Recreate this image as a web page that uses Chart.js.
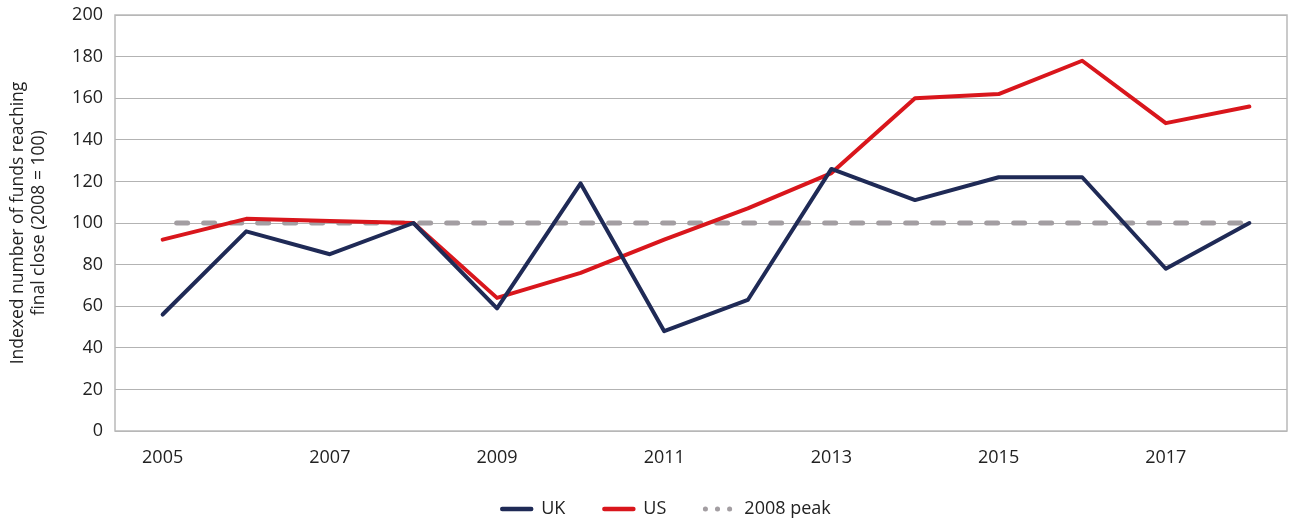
<!DOCTYPE html>
<html>
<head>
<meta charset="utf-8">
<script src="https://cdn.jsdelivr.net/npm/chart.js@4"></script>
<style>
  html, body { margin: 0; padding: 0; background: #fff; }
  #wrap { width: 1290px; height: 524px; }
</style>
</head>
<body>
<div id="wrap"><canvas id="fundsChart" width="1290" height="524"></canvas></div>
<script>
// funds reaching final close, indexed to 2008
const years = [2005, 2006, 2007, 2008, 2009, 2010, 2011, 2012, 2013, 2014, 2015, 2016, 2017, 2018];
const ukValues = [56, 96, 85, 100, 59, 119, 48, 63, 126, 111, 122, 122, 78, 100];
const usValues = [92, 102, 101, 100, 64, 76, 92, 107, 124, 160, 162, 178, 148, 156];
const peakValues = [100, 100, 100, 100, 100, 100, 100, 100, 100, 100, 100, 100, 100, 100];
const yearTicks = [2005, 2007, 2009, 2011, 2013, 2015, 2017];

const FONT = '"Open Sans", "DejaVu Sans", sans-serif';
const TEXT = '#222222';

const toPoints = vals => vals.map((v, i) => ({ x: years[i], y: v }));

// box around the plot area
const frame = {
    id: 'frame',
    beforeDatasetsDraw(chart) {
        const a = chart.chartArea, ctx = chart.ctx;
        ctx.save();
        ctx.strokeStyle = '#b9b9b9';
        ctx.lineWidth = 1.5;
        ctx.strokeRect(a.left, a.top, a.right - a.left, a.bottom - a.top);
        ctx.restore();
    }
};

// legend row under the x axis
const bottomLegend = {
    id: 'bottomLegend',
    afterDraw(chart) {
        const ctx = chart.ctx;
        const sw = 34, gap = 8, itemGap = 36, y = 509;
        ctx.save();
        ctx.font = '18px ' + FONT;
        ctx.textBaseline = 'middle';
        const items = chart.data.datasets;
        const widths = items.map(d => sw + gap + ctx.measureText(d.label).width);
        const total = widths.reduce((a, b) => a + b, 0) + itemGap * (items.length - 1);
        let x = 665 - total / 2;
        items.forEach((d, i) => {
            ctx.strokeStyle = d.borderColor;
            ctx.lineCap = 'round';
            if (d.borderDash) {
                ctx.lineWidth = 5;
                ctx.setLineDash([0.1, 12]);
            } else {
                ctx.lineWidth = 4.5;
                ctx.setLineDash([]);
            }
            ctx.beginPath();
            ctx.moveTo(x + 3, y);
            ctx.lineTo(x + sw - 2, y);
            ctx.stroke();
            ctx.setLineDash([]);
            ctx.fillStyle = TEXT;
            ctx.fillText(d.label, x + sw + gap, y);
            x += widths[i] + itemGap;
        });
        ctx.restore();
    }
};

new Chart(document.getElementById('fundsChart'), {
    type: 'line',
    data: {
        datasets: [
            {
                label: 'UK',
                data: toPoints(ukValues),
                borderColor: '#1f2a56',
                borderWidth: 4,
                borderJoinStyle: 'round',
                borderCapStyle: 'round',
                pointRadius: 0,
                tension: 0
            },
            {
                label: 'US',
                data: toPoints(usValues),
                borderColor: '#d9161c',
                borderWidth: 4,
                borderJoinStyle: 'round',
                borderCapStyle: 'round',
                pointRadius: 0,
                tension: 0
            },
            {
                label: '2008 peak',
                data: toPoints(peakValues),
                borderColor: '#a39ea2',
                borderWidth: 5,
                borderDash: [11, 16],
                borderDashOffset: 13,
                borderCapStyle: 'round',
                pointRadius: 0,
                tension: 0
            }
        ]
    },
    options: {
        responsive: false,
        animation: false,
        layout: { padding: { top: 15, right: 3, bottom: 50, left: 0 } },
        plugins: {
            legend: { display: false },
            tooltip: { enabled: false }
        },
        scales: {
            x: {
                type: 'linear',
                min: 2004.43,
                max: 2018.45,
                grid: { display: false },
                border: { display: false },
                afterBuildTicks: axis => { axis.ticks = yearTicks.map(v => ({ value: v })); },
                afterFit: axis => { axis.height = 43; axis.paddingLeft = 0; axis.paddingRight = 0; },
                ticks: {
                    padding: 8,
                    color: TEXT,
                    font: { family: FONT, size: 18 },
                    callback: v => String(v),
                    maxRotation: 0
                }
            },
            y: {
                min: 0,
                max: 200,
                grid: { color: '#b3b3b3', lineWidth: 1, drawTicks: false },
                border: { display: false },
                afterFit: axis => { axis.width = 115; axis.paddingTop = 0; axis.paddingBottom = 0; },
                ticks: {
                    stepSize: 20,
                    padding: 12,
                    color: TEXT,
                    font: { family: FONT, size: 18 }
                },
                title: {
                    display: true,
                    text: ['Indexed number of funds reaching', 'final close (2008 = 100)'],
                    color: TEXT,
                    font: { family: FONT, size: 17.5, lineHeight: 1.2 },
                    padding: { top: 8, bottom: 0 }
                }
            }
        }
    },
    plugins: [frame, bottomLegend]
});
</script>
</body>
</html>
